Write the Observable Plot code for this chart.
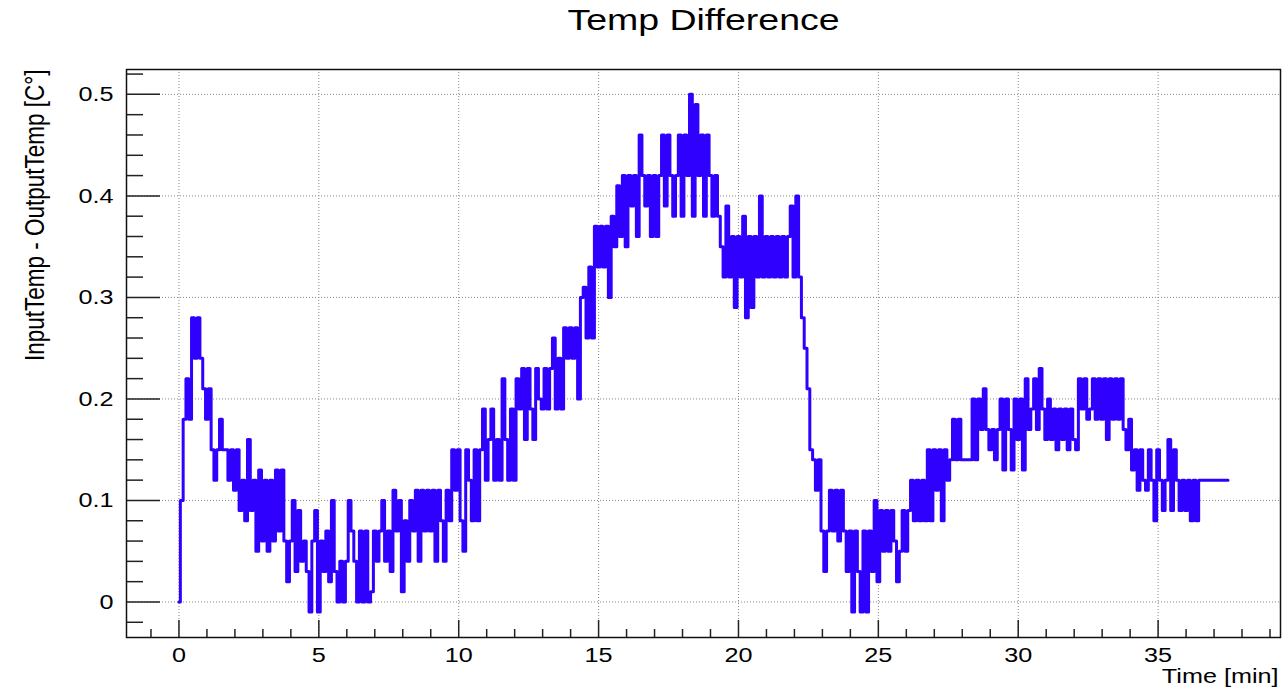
<!DOCTYPE html>
<html><head><meta charset="utf-8">
<script src="https://cdn.jsdelivr.net/npm/d3@7"></script>
<script src="https://cdn.jsdelivr.net/npm/@observablehq/plot@0.6"></script>
<style>body{margin:0;background:#fff;} svg{display:block;}</style>
</head><body><div id="chart"></div>
<script>
const title = "Temp Difference";
const xLabel = "Time [min]";
const yLabel = "InputTemp - OutputTemp [C°]";

// readings sampled every 0.1 min, starting at 0 min (one row per minute)
const sampleStart = 0;
const sampleStep = 0.1;
const tempDiff = [
  0, 0.1, 0.18, 0.22, 0.18, 0.28, 0.24, 0.28, 0.24, 0.21,
  0.18, 0.21, 0.15, 0.12, 0.15, 0.18, 0.15, 0.15, 0.12, 0.15,
  0.11, 0.15, 0.09, 0.12, 0.08, 0.16, 0.09, 0.12, 0.05, 0.13,
  0.06, 0.12, 0.05, 0.12, 0.06, 0.13, 0.07, 0.13, 0.06, 0.02,
  0.06, 0.1, 0.03, 0.09, 0.04, 0.06, 0.03, -0.01, 0.06, 0.09,
  -0.01, 0.06, 0.03, 0.07, 0.02, 0.1, 0.03, 0, 0.04, 0,
  0.04, 0.1, 0.07, 0.04, 0, 0.07, 0, 0.07, 0, 0.01,
  0.07, 0.04, 0.07, 0.1, 0.04, 0.07, 0.03, 0.11, 0.07, 0.1,
  0.01, 0.08, 0.04, 0.1, 0.07, 0.11, 0.04, 0.11, 0.07, 0.11,
  0.07, 0.11, 0.04, 0.11, 0.08, 0.04, 0.11, 0.08, 0.15, 0.11,
  0.15, 0.08, 0.05, 0.15, 0.12, 0.08, 0.15, 0.08, 0.15, 0.19,
  0.12, 0.16, 0.19, 0.12, 0.16, 0.12, 0.22, 0.16, 0.12, 0.19,
  0.12, 0.22, 0.19, 0.23, 0.16, 0.23, 0.19, 0.16, 0.23, 0.2,
  0.19, 0.23, 0.19, 0.23, 0.26, 0.19, 0.24, 0.19, 0.27, 0.24,
  0.27, 0.24, 0.27, 0.2, 0.3, 0.31, 0.26, 0.33, 0.26, 0.37,
  0.33, 0.37, 0.33, 0.37, 0.3, 0.38, 0.35, 0.41, 0.36, 0.42,
  0.35, 0.42, 0.39, 0.42, 0.36, 0.46, 0.42, 0.39, 0.42, 0.36,
  0.42, 0.36, 0.42, 0.46, 0.39, 0.46, 0.42, 0.38, 0.42, 0.46,
  0.38, 0.46, 0.42, 0.5, 0.38, 0.49, 0.42, 0.46, 0.38, 0.46,
  0.42, 0.38, 0.42, 0.38, 0.35, 0.32, 0.39, 0.32, 0.36, 0.29,
  0.36, 0.32, 0.38, 0.28, 0.36, 0.29, 0.36, 0.32, 0.4, 0.32,
  0.36, 0.32, 0.36, 0.32, 0.36, 0.32, 0.36, 0.32, 0.36, 0.39,
  0.32, 0.4, 0.32, 0.28, 0.25, 0.21, 0.15, 0.14, 0.11, 0.14,
  0.07, 0.03, 0.07, 0.11, 0.07, 0.11, 0.06, 0.11, 0.07, 0.03,
  0.07, -0.01, 0.07, 0.03, -0.01, 0.07, -0.01, 0.07, 0.03, 0.1,
  0.02, 0.09, 0.05, 0.09, 0.05, 0.09, 0.06, 0.02, 0.05, 0.09,
  0.05, 0.09, 0.12, 0.08, 0.12, 0.08, 0.12, 0.08, 0.15, 0.08,
  0.15, 0.11, 0.15, 0.08, 0.15, 0.12, 0.14, 0.18, 0.14, 0.18,
  0.14, 0.14, 0.14, 0.14, 0.2, 0.14, 0.2, 0.17, 0.21, 0.17,
  0.15, 0.17, 0.14, 0.17, 0.2, 0.13, 0.2, 0.17, 0.13, 0.2,
  0.16, 0.2, 0.13, 0.22, 0.17, 0.19, 0.22, 0.17, 0.23, 0.19,
  0.16, 0.2, 0.16, 0.19, 0.15, 0.19, 0.16, 0.19, 0.15, 0.19,
  0.16, 0.15, 0.22, 0.19, 0.22, 0.18, 0.19, 0.22, 0.18, 0.22,
  0.18, 0.22, 0.16, 0.22, 0.18, 0.22, 0.18, 0.22, 0.17, 0.15,
  0.18, 0.13, 0.15, 0.11, 0.15, 0.12, 0.11, 0.15, 0.12, 0.08,
  0.15, 0.12, 0.09, 0.12, 0.16, 0.09, 0.15, 0.12, 0.09, 0.12,
  0.09, 0.12, 0.08, 0.12, 0.08, 0.12, 0.12, 0.12, 0.12, 0.12,
  0.12, 0.12, 0.12, 0.12, 0.12, 0.12
];

const xMajorTicks = [0, 5, 10, 15, 20, 25, 30, 35];
const xMinorTicks = [-1, 1, 2, 3, 4, 6, 7, 8, 9, 11, 12, 13, 14, 16, 17, 18, 19, 21, 22, 23, 24, 26, 27, 28, 29, 31, 32, 33, 34, 36, 37, 38, 39];
const yMajorTicks = [0, 0.1, 0.2, 0.3, 0.4, 0.5];
const yMinorTicks = [-0.02, 0.02, 0.04, 0.06, 0.08, 0.12, 0.14, 0.16, 0.18, 0.22, 0.24, 0.26, 0.28, 0.32, 0.34, 0.36, 0.38, 0.42, 0.44, 0.46, 0.48, 0.52];

const data = tempDiff.map((v, i) => ({t: +(sampleStart + i * sampleStep).toFixed(2), v}));

const W = 1286, H = 690, mL = 126, mR = 6, mT = 69, mB = 53;
const innerW = W - mL - mR, innerH = H - mT - mB;
const font = "'Liberation Sans', Arial, Helvetica, sans-serif";

const svg = Plot.plot({
  width: W, height: H,
  marginLeft: mL, marginRight: mR, marginTop: mT, marginBottom: mB,
  style: {fontFamily: font, background: "#fff", overflow: "visible", color: "#000"},
  x: {domain: [-1.875, 39.375], label: null},
  y: {domain: [-0.035, 0.5245], label: null},
  marks: [
    Plot.ruleX(xMajorTicks, {stroke: "#888", strokeDasharray: "1,2", strokeWidth: 1}),
    Plot.ruleY(yMajorTicks, {stroke: "#888", strokeDasharray: "1,2", strokeWidth: 1}),
    Plot.tickX(xMajorTicks, {stroke: "#222", strokeWidth: 1.5, insetTop: innerH - 17}),
    Plot.tickX(xMinorTicks, {stroke: "#222", strokeWidth: 1.5, insetTop: innerH - 8}),
    Plot.tickY(yMajorTicks, {stroke: "#222", strokeWidth: 1.5, insetRight: innerW - 34}),
    Plot.tickY(yMinorTicks, {stroke: "#222", strokeWidth: 1.5, insetRight: innerW - 17}),
    Plot.line(data, {x: "t", y: "v", stroke: "#3000ff", strokeWidth: 3, curve: "step"}),
    Plot.frame({stroke: "#111", strokeWidth: 1.5}),
    Plot.axisX(xMajorTicks, {tickSize: 0, tickPadding: 10, fontSize: 21, label: null, tickFormat: d => String(d)}),
    Plot.axisY(yMajorTicks, {tickSize: 0, tickPadding: 13, fontSize: 21, label: null, tickFormat: d => d === 0 ? "0" : d.toFixed(1)}),
    Plot.text([title], {frameAnchor: "top", dy: -49, fontSize: 30, lineAnchor: "middle", fill: "#000"}),
    Plot.text([xLabel], {frameAnchor: "bottom-right", textAnchor: "end", dx: -2, dy: 39, fontSize: 21, lineAnchor: "middle", fill: "#000"}),
    Plot.text([yLabel], {frameAnchor: "top-left", rotate: -90, textAnchor: "end", dx: -91, dy: 0, fontSize: 22.5, lineAnchor: "middle", fill: "#000"})
  ]
});

// the reference renders its lettering horizontally widened
svg.querySelectorAll("text").forEach(el => {
  const s = el.textContent === title ? 1.25 : 1.2;
  let tr = el.getAttribute("transform");
  if (tr == null) {
    const x = +(el.getAttribute("x") || 0), y = +(el.getAttribute("y") || 0);
    el.setAttribute("transform", `translate(${x},${y}) scale(${s},1) translate(${-x},${-y})`);
  } else if (tr.includes("rotate")) {
    el.setAttribute("transform", tr.replace("rotate", `scale(${s},1) rotate`));
  } else {
    el.setAttribute("transform", tr + ` scale(${s},1)`);
  }
});

document.getElementById("chart").appendChild(svg);
</script>
</body></html>
